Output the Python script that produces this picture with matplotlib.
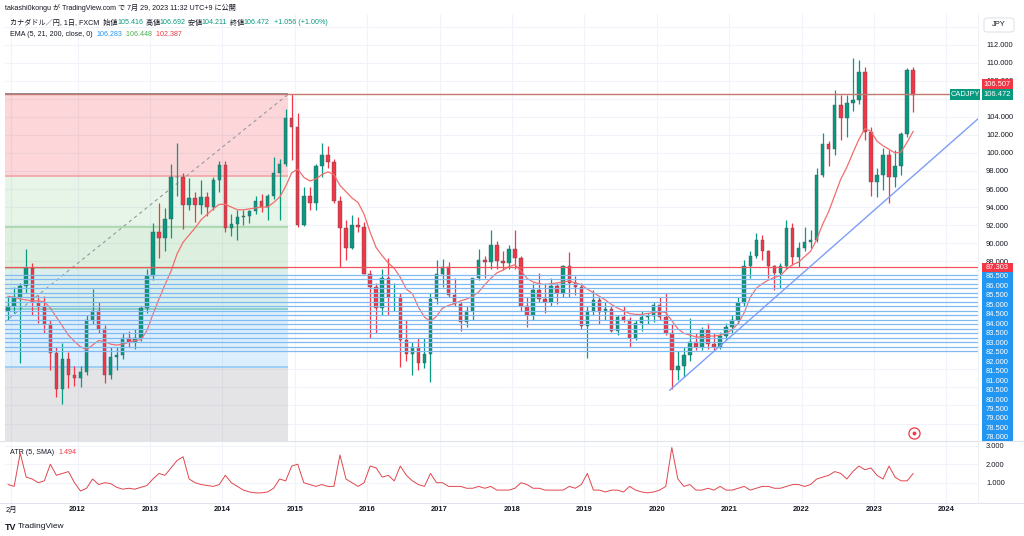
import matplotlib
matplotlib.use("Agg")
import matplotlib.pyplot as plt
from matplotlib.patches import Rectangle, FancyBboxPatch
from matplotlib.lines import Line2D
from matplotlib.transforms import Bbox, TransformedBbox

plt.rcParams['font.family'] = ['Liberation Sans', 'Noto Sans CJK JP', 'DejaVu Sans']

W, H = 1024, 536

# CAD/JPY, monthly OHLC (Jan 2011 .. Jul 2023)
opens = [
    82.5, 83.0, 84.0, 85.2, 87.2, 83.5, 82.9, 81.0, 77.8, 73.8, 77.2, 75.4,
    75.0, 75.7, 81.5, 82.5, 80.5, 75.4, 77.4, 77.6, 79.5, 79.0, 79.5, 82.8,
    86.4, 91.2, 90.6, 92.7, 97.3, 97.3, 94.2, 95.0, 94.2, 95.1, 94.0, 97.0,
    98.7, 91.7, 92.1, 92.9, 93.0, 93.6, 94.7, 94.0, 95.2, 97.8, 98.8, 103.9,
    102.9, 92.0, 95.2, 94.5, 98.6, 99.8, 99.0, 94.7, 91.7, 89.5, 92.0, 91.8,
    86.6, 85.1, 82.8, 86.1, 84.0, 84.0, 79.3, 77.7, 78.5, 76.7, 77.7, 83.8,
    86.6, 87.4, 84.3, 83.2, 81.3, 82.5, 86.1, 88.1, 87.9, 89.8, 88.0, 87.8,
    89.3, 88.3, 83.0, 82.0, 84.8, 83.8, 83.5, 85.3, 84.5, 87.5, 85.6, 85.1,
    80.8, 82.5, 83.7, 82.4, 82.7, 80.3, 81.8, 81.5, 79.5, 81.1, 81.8, 81.9,
    83.1, 81.8, 80.0, 75.9, 76.4, 77.6, 79.0, 78.5, 80.4, 78.8, 78.5, 79.7,
    80.7, 81.5, 83.4, 87.5, 88.6, 90.3, 89.1, 87.5, 86.7, 87.5, 91.7, 88.5,
    89.5, 90.1, 90.4, 97.6, 101.0, 100.4, 105.3, 103.9, 105.5, 105.9, 109.0, 102.3,
    96.8, 97.5, 99.8, 97.3, 98.6, 102.1, 109.2,
]
highs = [
    84.1, 85.1, 85.6, 89.4, 87.8, 84.3, 84.1, 81.5, 78.5, 78.9, 77.9, 76.4,
    76.4, 82.0, 84.9, 83.5, 80.9, 78.5, 78.5, 80.0, 80.3, 80.5, 83.0, 87.1,
    92.2, 94.4, 93.9, 98.8, 101.1, 97.8, 97.2, 95.7, 97.0, 95.7, 97.3, 99.1,
    99.1, 93.2, 93.7, 93.7, 93.7, 95.2, 95.5, 95.5, 99.5, 99.3, 104.9, 106.5,
    104.4, 96.2, 96.2, 98.8, 101.1, 100.8, 99.3, 95.2, 92.6, 93.1, 92.9, 92.3,
    87.0, 85.6, 87.1, 88.4, 85.6, 84.5, 81.5, 79.0, 79.5, 79.5, 84.5, 88.1,
    88.2, 87.9, 86.1, 83.5, 83.0, 86.1, 89.4, 88.6, 91.5, 90.2, 89.1, 89.8,
    91.5, 88.6, 84.0, 85.6, 86.7, 85.6, 86.1, 85.6, 87.6, 89.0, 86.4, 85.6,
    83.0, 84.8, 84.0, 83.5, 83.0, 82.0, 83.0, 81.8, 81.5, 82.5, 82.3, 83.5,
    84.0, 84.5, 81.0, 78.0, 78.5, 81.7, 80.0, 80.7, 81.1, 80.0, 80.1, 81.1,
    82.0, 84.0, 88.1, 89.1, 91.1, 90.9, 89.2, 87.6, 87.8, 92.6, 92.2, 90.1,
    91.8, 91.5, 98.3, 102.2, 101.3, 107.0, 106.4, 106.4, 110.5, 110.3, 109.5, 102.9,
    98.3, 100.6, 100.3, 100.3, 102.3, 109.4, 109.5,
]
lows = [
    81.5, 82.3, 76.7, 84.5, 82.0, 81.1, 80.0, 75.9, 72.9, 72.2, 73.9, 74.2,
    74.0, 75.4, 81.0, 80.0, 74.5, 74.9, 75.9, 77.2, 78.5, 78.3, 79.1, 82.3,
    85.9, 88.4, 89.1, 90.6, 95.2, 91.6, 93.7, 92.3, 93.2, 93.0, 93.7, 95.7,
    91.2, 90.8, 90.3, 92.0, 92.2, 93.2, 93.5, 92.6, 94.9, 92.6, 98.6, 99.2,
    91.8, 91.9, 93.7, 93.7, 97.3, 98.3, 94.4, 87.3, 88.1, 89.4, 91.2, 86.6,
    79.5, 80.0, 82.0, 82.0, 82.5, 76.3, 76.9, 75.4, 75.9, 76.2, 74.6, 83.3,
    85.1, 84.0, 83.0, 80.3, 80.7, 81.5, 85.9, 86.1, 87.1, 87.1, 87.0, 87.1,
    87.1, 82.5, 80.7, 81.5, 83.5, 82.2, 83.0, 83.3, 84.0, 84.0, 84.3, 80.5,
    77.3, 82.0, 81.0, 81.5, 80.1, 79.8, 81.3, 78.5, 79.3, 80.3, 81.0, 81.3,
    81.5, 79.8, 73.8, 74.8, 75.2, 76.9, 78.2, 78.2, 78.3, 78.2, 78.3, 79.3,
    80.0, 81.0, 83.0, 86.1, 88.3, 88.1, 86.1, 84.8, 85.0, 87.1, 87.6, 87.4,
    89.1, 89.5, 90.1, 97.3, 98.5, 99.8, 101.4, 101.8, 104.7, 105.4, 101.4, 95.2,
    95.1, 95.9, 94.4, 96.2, 97.6, 101.8, 104.5,
]
closes = [
    83.0, 84.0, 85.2, 87.2, 83.5, 82.9, 81.0, 77.8, 73.8, 77.2, 75.4, 75.0,
    75.7, 81.5, 82.5, 80.5, 75.4, 77.4, 77.6, 79.5, 79.0, 79.5, 82.8, 86.4,
    91.2, 90.6, 92.7, 97.3, 97.3, 94.2, 95.0, 94.2, 95.1, 94.0, 97.0, 98.7,
    91.7, 92.1, 92.9, 93.0, 93.6, 94.7, 94.0, 95.2, 97.8, 98.8, 103.9, 102.9,
    92.0, 95.2, 94.5, 98.6, 99.8, 99.0, 94.7, 91.7, 89.5, 92.0, 91.8, 86.6,
    85.1, 82.8, 86.1, 84.0, 84.0, 79.3, 77.7, 78.5, 76.7, 77.7, 83.8, 86.6,
    87.4, 84.3, 83.2, 81.3, 82.5, 86.1, 88.1, 87.9, 89.8, 88.0, 87.8, 89.3,
    88.3, 83.0, 82.0, 84.8, 83.8, 83.5, 85.3, 84.5, 87.5, 85.6, 85.1, 80.8,
    82.5, 83.7, 82.4, 82.7, 80.3, 81.8, 81.5, 79.5, 81.1, 81.8, 81.9, 83.1,
    81.8, 80.0, 75.9, 76.4, 77.6, 79.0, 78.5, 80.4, 78.8, 78.5, 79.7, 80.7,
    81.5, 83.4, 87.5, 88.6, 90.3, 89.1, 87.5, 86.7, 87.5, 91.7, 88.5, 89.5,
    90.1, 90.4, 97.6, 101.0, 100.4, 105.3, 103.9, 105.5, 105.9, 109.0, 102.3, 96.8,
    97.5, 99.8, 97.3, 98.6, 102.1, 109.2, 106.472,
]
# EMA 200 (red line), one reading per month
ema200 = [
    84.1, 84.0, 83.8, 83.7, 83.6, 83.6, 83.5, 82.8, 81.8, 80.8, 79.8, 79.1,
    78.5, 78.2, 78.7, 79.2, 79.1, 78.8, 78.7, 78.8, 79.0, 79.2, 79.3, 80.3,
    82.1, 83.8, 85.4, 86.9, 88.8, 90.1, 90.9, 91.7, 92.6, 93.2, 93.8, 94.3,
    94.3, 94.0, 93.7, 93.7, 93.8, 93.9, 94.0, 94.0, 94.5, 95.1, 96.3, 97.8,
    98.2, 97.3, 96.9, 97.1, 97.6, 97.9, 97.6, 96.4, 95.7, 95.0, 94.5, 93.2,
    91.2, 89.5, 88.6, 87.8, 87.2, 86.2, 84.9, 84.4, 82.9, 81.8, 81.3, 81.9,
    82.8, 83.1, 83.3, 83.6, 83.8, 84.1, 84.6, 85.4, 86.1, 86.7, 87.0, 87.4,
    87.6, 86.9, 86.1, 85.7, 85.5, 85.4, 85.5, 85.6, 85.7, 85.8, 85.6, 85.4,
    84.9, 84.5, 84.1, 83.7, 83.2, 82.8, 82.5, 82.2, 82.1, 82.1, 82.2, 82.3,
    82.4, 82.3, 81.4, 80.5, 80.0, 79.8, 79.6, 79.6, 79.7, 79.7, 79.8, 80.0,
    80.4, 81.1, 82.3, 84.0, 85.0, 85.5, 85.9, 86.2, 86.4, 87.1, 87.6, 87.9,
    88.5, 89.1, 90.4, 92.1, 93.5, 95.3, 97.1, 98.4, 100.0, 101.5, 102.7, 102.4,
    101.3, 100.8, 100.4, 100.0, 100.1, 101.2, 102.387,
]
# ATR(5, SMA), one reading per month
atr = [
    0.9, 0.8, 2.6, 1.3, 1.2, 1.0, 1.1, 2.0, 1.4, 1.5, 1.6, 1.0,
    0.55, 0.7, 1.2, 0.9, 1.0, 0.95, 0.75, 0.65, 0.7, 0.65, 0.75, 0.85,
    1.2, 1.5, 1.4, 1.8, 2.2, 2.4, 1.2, 1.0, 0.9, 0.85, 0.8, 0.9,
    1.4, 1.0, 0.8, 0.6, 0.5, 0.45, 0.45, 0.5, 0.7, 1.2, 1.1, 1.9,
    2.0, 1.0, 0.9, 0.8, 0.9, 0.8, 0.8, 2.5, 1.2, 1.0, 0.8, 1.0,
    1.9, 1.8, 1.3, 1.4, 1.1, 1.9, 1.4, 1.1, 0.9, 0.8, 1.5, 1.0,
    1.0, 0.8, 0.8, 0.8, 0.7, 0.7, 0.8, 0.7, 0.8, 0.6, 0.6, 0.6,
    0.7, 1.0, 0.9, 0.7, 0.7, 0.6, 0.6, 0.6, 0.6, 0.8, 0.7, 0.9,
    1.5, 0.6, 0.6, 0.5, 0.6, 0.6, 0.5, 0.8, 0.6, 0.5, 0.45, 0.5,
    0.6, 0.8, 2.9, 1.2, 0.8, 0.9, 0.6, 0.6, 0.7, 0.6, 0.8, 0.6,
    0.6, 0.7, 0.8, 0.6, 0.7, 0.8, 0.8, 0.7, 0.7, 0.8, 0.9, 0.9,
    0.8, 0.9, 1.2, 1.3, 1.4, 1.6, 1.5, 1.2, 1.6, 1.9, 1.7, 1.8,
    1.4, 1.2, 1.9, 1.3, 1.1, 1.1, 1.494,
]

# drawings
fib_start = (2008.935, 68.0)       # fib retracement anchor (low)
fib_end = (2014.91, 106.507)       # fib retracement end (high)
fib_levels = [0, 0.236, 0.382, 0.5, 0.618, 0.786, 1]
res_line = 106.507
red_line = 87.303
blue_levels = [86.5, 86.0, 85.5, 85.0, 84.5, 84.0, 83.5, 83.0, 82.5,
               82.0, 81.5, 81.0, 80.5, 80.0, 79.5, 79.0, 78.5, 78.0]
trend_t = [2020.18, 2024.44]
trend_p = [73.7, 103.8]

year_ticks = [2011 + 1 / 12] + list(range(2012, 2025))
year_labels = ['2月'] + [str(y) for y in range(2012, 2025)]
price_ticks = list(range(70, 115, 2))
price_shown = [88, 90, 92, 94, 96, 98, 100, 102, 104, 108, 110, 112]

UP, DOWN = '#089981', '#f23645'
TXT = '#131722'
GRID = '#f0f3fa'

# pixel layout
def fx(x):
    return x / W

def fy(y):
    return 1 - y / H

PMIN, PMAX = 68.064, 115.404
TMIN, TMAX = 2010.9986, 2024.437
MAIN_TOP, MAIN_BOT = 14, 441
ATR_TOP, ATR_BOT = 442, 503

def py(p):
    return MAIN_TOP + (PMAX - p) / (PMAX - PMIN) * (MAIN_BOT - MAIN_TOP)

fig = plt.figure(figsize=(W / 100, H / 100), dpi=100)
fig.patch.set_facecolor('white')
ax = fig.add_axes([fx(5), fy(MAIN_BOT), fx(978) - fx(5), (MAIN_BOT - MAIN_TOP) / H])
ax2 = fig.add_axes([fx(5), fy(ATR_BOT), fx(978) - fx(5), (ATR_BOT - ATR_TOP) / H])

n = len(closes)
t = [2011 + (i + 0.5) / 12 for i in range(n)]

# ---- main pane
ax.set_xlim(TMIN, TMAX)
ax.set_ylim(PMIN, PMAX)

# fib retracement
span = fib_end[1] - fib_start[1]
fib_prices = [fib_end[1] - lv * span for lv in fib_levels]
fib_fill = [('#f23645', 0.2), ('#4caf50', 0.13), ('#4caf50', 0.19),
            ('#089981', 0.15), ('#2196f3', 0.15), ('#787b86', 0.2)]
fib_line = ['#787b86', '#f5a3a8', '#a5d6a7', '#a5d6a7', '#80cbc4', '#90caf9', '#c4c6cc']
for i in range(len(fib_levels) - 1):
    c, a = fib_fill[i]
    ax.add_patch(Rectangle((fib_start[0], fib_prices[i + 1]), fib_end[0] - fib_start[0],
                           fib_prices[i] - fib_prices[i + 1], facecolor=c, alpha=a,
                           edgecolor='none', zorder=1))
ax.hlines(fib_prices, fib_start[0], fib_end[0], colors=fib_line, lw=1.2, zorder=1.5)
ax.plot([fib_start[0], fib_end[0]], [fib_start[1], fib_end[1]], color='#9598a1',
        lw=0.8, ls=(0, (3, 3)), zorder=2)

# candles
cols = [UP if c >= o else DOWN for o, c in zip(opens, closes)]
ax.vlines(t, lows, highs, colors=cols, lw=0.9, zorder=3)
ax.bar(t, [c - o for o, c in zip(opens, closes)], bottom=opens, width=0.048,
       color=cols, edgecolor='#50535e', linewidth=0.3, zorder=3.2)

ax.plot(t, ema200, color='#f26d6d', lw=0.9, zorder=3.5)

# horizontal lines and trend line
ax.axhline(res_line, color='#c4796e', lw=1.0, zorder=4)
ax.axhline(red_line, color='#f2545f', lw=0.9, zorder=4)
for lv in blue_levels:
    ax.axhline(lv, color='#7fbaf2', lw=0.9, zorder=4)
ax.plot(trend_t, trend_p, color='#7c9ef6', lw=1.0, zorder=4)

ax.set_xticks(year_ticks)
ax.tick_params(axis='x', bottom=False, labelbottom=False)
ax.set_yticks(price_ticks)
ax.set_yticklabels([f'{v:.3f}' if v in price_shown else '' for v in price_ticks])
ax.yaxis.tick_right()
ax.tick_params(axis='y', length=0, pad=5.8, labelsize=5.4, labelcolor=TXT)
ax.grid(True, color=GRID, lw=0.8)
ax.set_axisbelow(True)
for s in ax.spines.values():
    s.set_visible(False)

# ---- ATR pane
ax2.set_xlim(TMIN, TMAX)
ax2.set_ylim(-0.097, 3.2)
ax2.plot(t, atr, color='#e0464e', lw=0.7)
ax2.set_xticks(year_ticks)
ax2.set_xticklabels(year_labels)
ax2.set_yticks([1, 2, 3])
ax2.set_yticklabels(['1.000', '2.000', '3.000'])
ax2.yaxis.tick_right()
ax2.tick_params(axis='y', length=0, pad=5.8, labelsize=5.4, labelcolor=TXT)
ax2.tick_params(axis='x', length=0, pad=2.5, labelsize=5.4, labelcolor=TXT)
for lab in ax2.get_xticklabels()[1:]:
    lab.set_fontweight('bold')
ax2.grid(True, color=GRID, lw=0.8)
ax2.set_axisbelow(True)
for s in ax2.spines.values():
    s.set_visible(False)

# pane borders
for yy in (MAIN_BOT, ATR_BOT):
    fig.add_artist(Line2D([0, 1], [fy(yy), fy(yy)], color='#e0e3eb', lw=0.8,
                          transform=fig.transFigure))
fig.add_artist(Line2D([fx(978), fx(978)], [fy(ATR_BOT), fy(MAIN_TOP)], color='#eceef3',
                      lw=0.6, transform=fig.transFigure))

# ---- price scale labels
clip = TransformedBbox(Bbox([[0, fy(MAIN_BOT)], [1, 1]]), fig.transFigure)

def price_box(yc, label, color, x0=982, x1=1013, h=9.5):
    r = Rectangle((fx(x0), fy(yc + h / 2)), (x1 - x0) / W, h / H, facecolor=color,
                  edgecolor='none', transform=fig.transFigure, zorder=5)
    fig.add_artist(r)
    r.set_clip_box(clip)
    tx = fig.text(fx((x0 + x1) / 2), fy(yc), label, color='white', fontsize=5.4,
                  ha='center', va='center', zorder=6)
    tx.set_clip_box(clip)
    tx.set_clip_on(True)

y_cur = py(closes[-1])
price_box(y_cur, f'{closes[-1]:.3f}', UP, h=10.5)
price_box(y_cur - 10.5, f'{res_line:.3f}', DOWN, h=10.5)
price_box(y_cur, 'CADJPY', UP, x0=950, x1=980, h=10.5)
y_red = py(red_line)
price_box(y_red, f'{red_line:.3f}', DOWN)
for i, lv in enumerate(blue_levels):
    price_box(y_red + (i + 1) * 9.47, f'{lv:.3f}', '#2196f3')

fig.add_artist(FancyBboxPatch((fx(984), fy(32)), 30 / W, 14 / H,
                              boxstyle='round,pad=0,rounding_size=0.004',
                              facecolor='white', edgecolor='#e0e3eb', lw=0.8,
                              transform=fig.transFigure))
fig.text(fx(999), fy(25), 'JPY', fontsize=5.4, color=TXT, ha='center', va='center')

# ---- legend texts
renderer = fig.canvas.get_renderer()

def draw_parts(x, y, parts, size=5.1):
    for s, c in parts:
        tx = fig.text(fx(x), fy(y), s, color=c, fontsize=size, ha='left', va='center')
        x += tx.get_window_extent(renderer).width

draw_parts(5, 8, [('takashi0kongu が TradingView.com で 7月 29, 2023 11:32 UTC+9 に公開', TXT)])
draw_parts(10, 23, [('カナダドル／円, 1日, FXCM  始値', TXT), ('105.416', UP), (' 高値', TXT),
                    ('106.692', UP), (' 安値', TXT), ('104.211', UP), (' 終値', TXT),
                    ('106.472', UP), ('  +1.056 (+1.00%)', UP)])
draw_parts(10, 34, [('EMA (5, 21, 200, close, 0)  ', TXT), ('106.283', '#2196f3'),
                    ('  106.448', '#4caf50'), ('  102.387', '#f23645')])
draw_parts(10, 452, [('ATR (5, SMA)  ', TXT), (f'{atr[-1]:.3f}', '#f23645')])

# footer logo
fig.text(fx(5), fy(527), 'TV', fontsize=6.5, fontweight='bold', color=TXT, ha='left', va='center')
fig.text(fx(18), fy(527), 'TradingView', fontsize=6, color=TXT, ha='left', va='center')

# replay marker
fig.add_artist(Line2D([fx(914)], [fy(433)], marker='o', markersize=8, mfc='white',
                      mec='#f23645', mew=0.9, transform=fig.transFigure))
fig.add_artist(Line2D([fx(914)], [fy(433)], marker='o', markersize=2.8, mfc='#f23645',
                      mec='none', transform=fig.transFigure))

fig.savefig('out.png', dpi=100, facecolor='white')
